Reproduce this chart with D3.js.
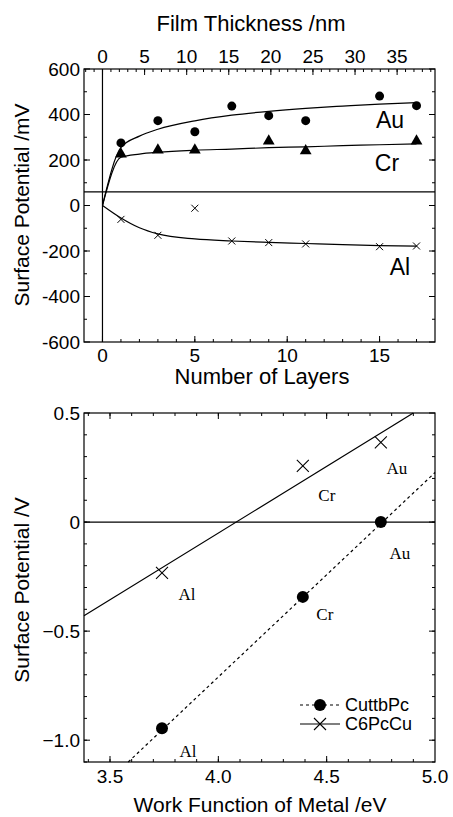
<!DOCTYPE html>
<html>
<head>
<meta charset="utf-8">
<script src="https://cdn.jsdelivr.net/npm/d3@7"></script>
<style>
body { margin: 0; background: #fff; }
text { font-family: "Liberation Sans", Arial, sans-serif; fill: #000; }
.serif { font-family: "Liberation Serif", "Times New Roman", serif; }
</style>
</head>
<body>
<svg id="chart"></svg>
<script>
// ---- top panel data (surface potential vs. number of layers)
var layers = [1, 3, 5, 7, 9, 11, 15, 17];
var auVals = [275, 373, 324, 437, 395, 373, 481, 439];
var crLayers = [1, 3, 5, 9, 11, 17];
var crVals = [226, 244, 244, 283, 240, 283];
var alVals = [-61, -131, -12, -156, -163, -169, -181, -178];

// fitted curves
var fitLayers = [0, 1, 2, 3, 5, 7, 9, 11, 13, 15, 17];
var auFit = [0, 255, 305, 335, 372, 397, 414, 427, 437, 446, 452];
var crFit = [0, 212, 226, 234, 243, 248, 254, 258, 263, 267, 271];
var alFit = [0, -55, -98, -125, -147, -156, -162, -167, -172, -176, -179];
var refLevel = 60;

// ---- bottom panel data (surface potential vs. work function)
var metals = ["Al", "Cr", "Au"];
var workFn = [3.74, 4.39, 4.75];
var cuttbVals = [-0.945, -0.343, 0.0];
var c6Vals = [-0.233, 0.258, 0.365];
var cuttbLine = [[3.584, -1.1], [5.0, 0.227]];
var c6Line = [[3.38, -0.43], [4.90, 0.5]];

var W = 453, H = 817;
var svg = d3.select("#chart").attr("width", W).attr("height", H);

function tickSet(g, scale, vals, len, orient) {
  // inward ticks on a box edge
  vals.forEach(function(v) {
    var p = scale(v);
    var l = g.append("line").attr("stroke", "#000").attr("stroke-width", 1);
    if (orient === "bottom") l.attr("x1", p).attr("x2", p).attr("y1", 0).attr("y2", -len);
    if (orient === "top") l.attr("x1", p).attr("x2", p).attr("y1", 0).attr("y2", len);
    if (orient === "left") l.attr("y1", p).attr("y2", p).attr("x1", 0).attr("x2", len);
    if (orient === "right") l.attr("y1", p).attr("y2", p).attr("x1", 0).attr("x2", -len);
  });
}

function crossPath(s) {
  return "M" + (-s) + "," + (-s) + "L" + s + "," + s + "M" + (-s) + "," + s + "L" + s + "," + (-s);
}

// ================= TOP PANEL =================
var x1 = d3.scaleLinear().domain([-1, 18]).range([84, 435]);
var xnm = d3.scaleLinear().domain([-2.2, 39.5]).range([84, 435]);
var y1 = d3.scaleLinear().domain([-600, 600]).range([342, 69]);

var topG = svg.append("g");
topG.append("rect").attr("x", 84).attr("y", 69).attr("width", 351).attr("height", 273)
  .attr("fill", "none").attr("stroke", "#000").attr("stroke-width", 1.2);

var bt = topG.append("g").attr("transform", "translate(0,342)");
tickSet(bt, x1, d3.range(0, 18, 1), 3, "bottom");
tickSet(bt, x1, [0, 5, 10, 15], 6, "bottom");
var tt = topG.append("g").attr("transform", "translate(0,69)");
tickSet(tt, xnm, d3.range(-2, 40, 1), 3, "top");
tickSet(tt, xnm, d3.range(0, 40, 5), 6, "top");
var lt = topG.append("g").attr("transform", "translate(84,0)");
tickSet(lt, y1, d3.range(-500, 600, 100), 3, "left");
tickSet(lt, y1, d3.range(-600, 601, 200), 6, "left");
var rt = topG.append("g").attr("transform", "translate(435,0)");
tickSet(rt, y1, d3.range(-500, 600, 100), 3, "right");
tickSet(rt, y1, d3.range(-600, 601, 200), 6, "right");

[0, 5, 10, 15].forEach(function(v) {
  topG.append("text").attr("x", x1(v)).attr("y", 362).attr("text-anchor", "middle")
    .attr("font-size", 19).text(v);
});
d3.range(0, 40, 5).forEach(function(v) {
  topG.append("text").attr("x", xnm(v)).attr("y", 63).attr("text-anchor", "middle")
    .attr("font-size", 19).text(v);
});
d3.range(-600, 601, 200).forEach(function(v) {
  topG.append("text").attr("x", 80).attr("y", y1(v)).attr("dy", "0.35em")
    .attr("text-anchor", "end").attr("font-size", 19).text(v);
});

topG.append("text").attr("x", 262).attr("y", 384).attr("text-anchor", "middle")
  .attr("font-size", 22).text("Number of Layers");
topG.append("text").attr("x", 251).attr("y", 31).attr("text-anchor", "middle")
  .attr("font-size", 22).text("Film Thickness /nm");
topG.append("text").attr("transform", "translate(29,205) rotate(-90)")
  .attr("text-anchor", "middle").attr("font-size", 21).text("Surface Potential /mV");

// reference lines
topG.append("line").attr("x1", x1(0)).attr("x2", x1(0)).attr("y1", 69).attr("y2", 342)
  .attr("stroke", "#000").attr("stroke-width", 1.2);
topG.append("line").attr("x1", 84).attr("x2", 435).attr("y1", y1(refLevel)).attr("y2", y1(refLevel))
  .attr("stroke", "#000").attr("stroke-width", 1.2);

var line1 = d3.line().x(function(d) { return x1(d[0]); }).y(function(d) { return y1(d[1]); })
  .curve(d3.curveMonotoneX);
[auFit, crFit, alFit].forEach(function(f) {
  topG.append("path").attr("d", line1(d3.zip(fitLayers, f)))
    .attr("fill", "none").attr("stroke", "#000").attr("stroke-width", 1.2);
});

topG.selectAll(".au").data(d3.zip(layers, auVals)).enter().append("circle")
  .attr("cx", function(d) { return x1(d[0]); }).attr("cy", function(d) { return y1(d[1]); })
  .attr("r", 4.5).attr("fill", "#000");
topG.selectAll(".cr").data(d3.zip(crLayers, crVals)).enter().append("path")
  .attr("transform", function(d) { return "translate(" + x1(d[0]) + "," + y1(d[1]) + ")"; })
  .attr("d", d3.symbol().type(d3.symbolTriangle).size(60)).attr("fill", "#000");
topG.selectAll(".al").data(d3.zip(layers, alVals)).enter().append("path")
  .attr("transform", function(d) { return "translate(" + x1(d[0]) + "," + y1(d[1]) + ")"; })
  .attr("d", crossPath(3.5)).attr("stroke", "#000").attr("stroke-width", 1).attr("fill", "none");

topG.append("text").attr("x", 390).attr("y", 128).attr("text-anchor", "middle").attr("font-size", 23).text("Au");
topG.append("text").attr("x", 387).attr("y", 171).attr("text-anchor", "middle").attr("font-size", 23).text("Cr");
topG.append("text").attr("x", 400).attr("y", 275).attr("text-anchor", "middle").attr("font-size", 23).text("Al");

// ================= BOTTOM PANEL =================
var x2 = d3.scaleLinear().domain([3.38, 5.0]).range([84, 435]);
var y2 = d3.scaleLinear().domain([-1.1, 0.5]).range([762, 413]);

var bot = svg.append("g");
bot.append("rect").attr("x", 84).attr("y", 413).attr("width", 351).attr("height", 349)
  .attr("fill", "none").attr("stroke", "#000").attr("stroke-width", 1.2);

var xMinor = d3.range(3.4, 5.0, 0.1).map(function(v) { return +v.toFixed(1); });
var xMajor = [3.5, 4.0, 4.5];
var yMinor = d3.range(-1.1, 0.5, 0.1).map(function(v) { return +v.toFixed(1); });
var yMajor = [-1.0, -0.5, 0, 0.5];

var bb = bot.append("g").attr("transform", "translate(0,762)");
tickSet(bb, x2, xMinor, 3, "bottom");
tickSet(bb, x2, xMajor, 6, "bottom");
var bt2 = bot.append("g").attr("transform", "translate(0,413)");
tickSet(bt2, x2, xMinor, 3, "top");
tickSet(bt2, x2, xMajor, 6, "top");
var bl = bot.append("g").attr("transform", "translate(84,0)");
tickSet(bl, y2, yMinor, 3, "left");
tickSet(bl, y2, yMajor, 6, "left");
var br = bot.append("g").attr("transform", "translate(435,0)");
tickSet(br, y2, yMinor, 3, "right");
tickSet(br, y2, yMajor, 6, "right");

[3.5, 4.0, 4.5, 5.0].forEach(function(v) {
  bot.append("text").attr("x", x2(v)).attr("y", 783).attr("text-anchor", "middle")
    .attr("font-size", 19).text(d3.format(".1f")(v));
});
yMajor.forEach(function(v) {
  bot.append("text").attr("x", 80).attr("y", y2(v)).attr("dy", "0.35em")
    .attr("text-anchor", "end").attr("font-size", 19)
    .text(v === 0 ? "0" : d3.format(".1f")(v));
});

bot.append("text").attr("x", 260).attr("y", 812).attr("text-anchor", "middle")
  .attr("font-size", 21).text("Work Function of Metal /eV");
bot.append("text").attr("transform", "translate(29,590) rotate(-90)")
  .attr("text-anchor", "middle").attr("font-size", 21).text("Surface Potential /V");

bot.append("line").attr("x1", 84).attr("x2", 435).attr("y1", y2(0)).attr("y2", y2(0))
  .attr("stroke", "#000").attr("stroke-width", 1.2);

var line2 = d3.line().x(function(d) { return x2(d[0]); }).y(function(d) { return y2(d[1]); });
bot.append("path").attr("d", line2(c6Line)).attr("fill", "none")
  .attr("stroke", "#000").attr("stroke-width", 1.2);
bot.append("path").attr("d", line2(cuttbLine)).attr("fill", "none")
  .attr("stroke", "#000").attr("stroke-width", 1.2).attr("stroke-dasharray", "3,3");

bot.selectAll(".cu").data(d3.zip(workFn, cuttbVals)).enter().append("circle")
  .attr("cx", function(d) { return x2(d[0]); }).attr("cy", function(d) { return y2(d[1]); })
  .attr("r", 6).attr("fill", "#000");
bot.selectAll(".c6").data(d3.zip(workFn, c6Vals)).enter().append("path")
  .attr("transform", function(d) { return "translate(" + x2(d[0]) + "," + y2(d[1]) + ")"; })
  .attr("d", crossPath(6)).attr("stroke", "#000").attr("stroke-width", 1.1).attr("fill", "none");

// metal labels next to points
var c6Off = [[25, 27], [24, 35], [16, 32]];
var cuOff = [[26, 29], [22, 23], [19, 37]];
metals.forEach(function(m, i) {
  bot.append("text").attr("class", "serif").attr("font-size", 17).attr("text-anchor", "middle")
    .attr("x", x2(workFn[i]) + c6Off[i][0]).attr("y", y2(c6Vals[i]) + c6Off[i][1]).text(m);
  bot.append("text").attr("class", "serif").attr("font-size", 17).attr("text-anchor", "middle")
    .attr("x", x2(workFn[i]) + cuOff[i][0]).attr("y", y2(cuttbVals[i]) + cuOff[i][1]).text(m);
});

// legend
var leg = bot.append("g").attr("transform", "translate(300,705)");
leg.append("line").attr("x1", 0).attr("x2", 40).attr("y1", 0).attr("y2", 0)
  .attr("stroke", "#000").attr("stroke-width", 1.2).attr("stroke-dasharray", "3,3");
leg.append("circle").attr("cx", 20).attr("cy", 0).attr("r", 6).attr("fill", "#000");
leg.append("text").attr("x", 45).attr("y", 0).attr("dy", "0.35em").attr("font-size", 18).text("CuttbPc");
leg.append("line").attr("x1", 0).attr("x2", 40).attr("y1", 19).attr("y2", 19)
  .attr("stroke", "#000").attr("stroke-width", 1.2);
leg.append("path").attr("transform", "translate(20,19)").attr("d", crossPath(6))
  .attr("stroke", "#000").attr("stroke-width", 1.1);
leg.append("text").attr("x", 45).attr("y", 19).attr("dy", "0.35em").attr("font-size", 18).text("C6PcCu");
</script>
</body>
</html>
